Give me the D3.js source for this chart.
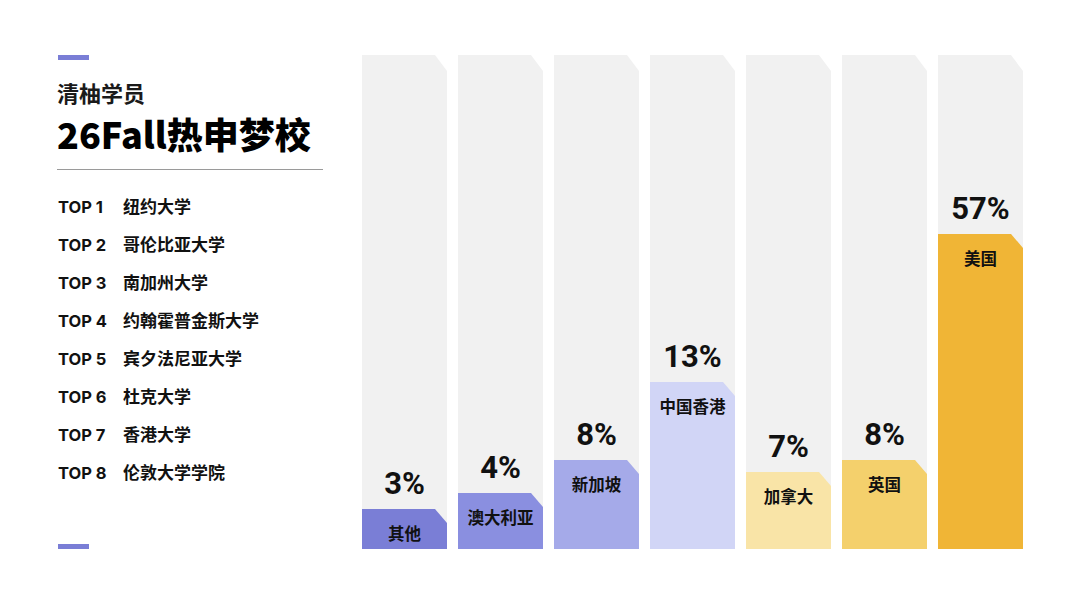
<!DOCTYPE html>
<html>
<head>
<meta charset="utf-8">
<script src="https://cdn.jsdelivr.net/npm/d3@7"></script>
<style>
  body { margin: 0; background: #fff; }
  svg { display: block; font-family: "Noto Sans CJK SC", "Noto Sans", sans-serif; }
</style>
</head>
<body>
<svg id="chart" width="1080" height="608"></svg>
<script>
const width = 1080, height = 608;

// data
const regions = ["其他", "澳大利亚", "新加坡", "中国香港", "加拿大", "英国", "美国"];
const shares = [3, 4, 8, 13, 7, 8, 57];
const colors = ["#7a7ed6", "#8a8fe0", "#a5aae9", "#d1d5f6", "#f9e4a7", "#f4d06c", "#f0b536"];
const ranks = ["TOP 1", "TOP 2", "TOP 3", "TOP 4", "TOP 5", "TOP 6", "TOP 7", "TOP 8"];
const schools = ["纽约大学", "哥伦比亚大学", "南加州大学", "约翰霍普金斯大学", "宾夕法尼亚大学", "杜克大学", "香港大学", "伦敦大学学院"];

const svg = d3.select("#chart");

// left header
svg.append("rect").attr("x", 58).attr("y", 55).attr("width", 31).attr("height", 5).attr("fill", "#7a7ed6");
svg.append("rect").attr("x", 58).attr("y", 544).attr("width", 31).attr("height", 5).attr("fill", "#7a7ed6");

svg.append("text").attr("x", 57).attr("y", 102)
  .attr("font-size", 22).attr("font-weight", 700).attr("fill", "#1a1a1a").text("清柚学员");
svg.append("text").attr("x", 57).attr("y", 149)
  .attr("font-size", 36).attr("font-weight", 900).attr("fill", "#000").text("26Fall热申梦校");
svg.append("line").attr("x1", 57).attr("x2", 323).attr("y1", 169.5).attr("y2", 169.5)
  .attr("stroke", "#9a9a9a").attr("stroke-width", 1);

//list of top schools
const yList = d3.scalePoint().domain(ranks).range([207, 473]);
const rows = svg.append("g").selectAll("g").data(ranks).join("g")
  .attr("transform", d => `translate(0,${yList(d)})`);
rows.append("text").attr("x", 58).attr("dy", "0.36em")
  .attr("font-family", "Inter, 'Noto Sans', sans-serif")
  .attr("font-size", 16.5).attr("font-weight", 700).attr("fill", "#111").text(d => d);
rows.append("text").attr("x", 123).attr("dy", "0.36em")
  .attr("font-size", 17).attr("font-weight", 700).attr("fill", "#111").text((d, i) => schools[i]);

// bar chart
const x = d3.scaleBand().domain(regions).range([362, 1023]).paddingInner(0.1146).paddingOuter(0);
// designer's uneven stretch, kept as a piecewise scale
const y = d3.scaleLinear().domain([0, 3, 4, 7, 8, 13, 57]).range([549, 509, 493, 472, 460, 382, 234]);
const colTop = 55, cutW = 12, cutH = 16;

function cutPath(x0, w, yTop, yBot, cw, ch) {
  return `M${x0},${yBot}V${yTop}H${x0 + w - cw}L${x0 + w},${yTop + ch}V${yBot}Z`;
}

const cols = svg.append("g").selectAll("g").data(regions).join("g");
cols.append("path")
  .attr("d", d => cutPath(x(d), x.bandwidth(), colTop, y(0), cutW, cutH))
  .attr("fill", "#f1f1f1");
cols.append("path")
  .attr("d", (d, i) => cutPath(x(d), x.bandwidth(), y(shares[i]), y(0), cutW, 14))
  .attr("fill", (d, i) => colors[i]);
cols.append("text")
  .attr("x", d => x(d) + x.bandwidth() / 2)
  .attr("y", (d, i) => y(shares[i]) - 15)
  .attr("text-anchor", "middle")
  .attr("font-family", "Roboto, 'Noto Sans', sans-serif")
  .attr("font-size", 31).attr("font-weight", 700).attr("fill", "#111")
  .text((d, i) => shares[i] + "%");
cols.append("text")
  .attr("x", d => x(d) + x.bandwidth() / 2)
  .attr("y", (d, i) => y(shares[i]) + 31)
  .attr("text-anchor", "middle")
  .attr("font-size", 16.5).attr("font-weight", 700).attr("fill", "#111")
  .text(d => d);
</script>
</body>
</html>
